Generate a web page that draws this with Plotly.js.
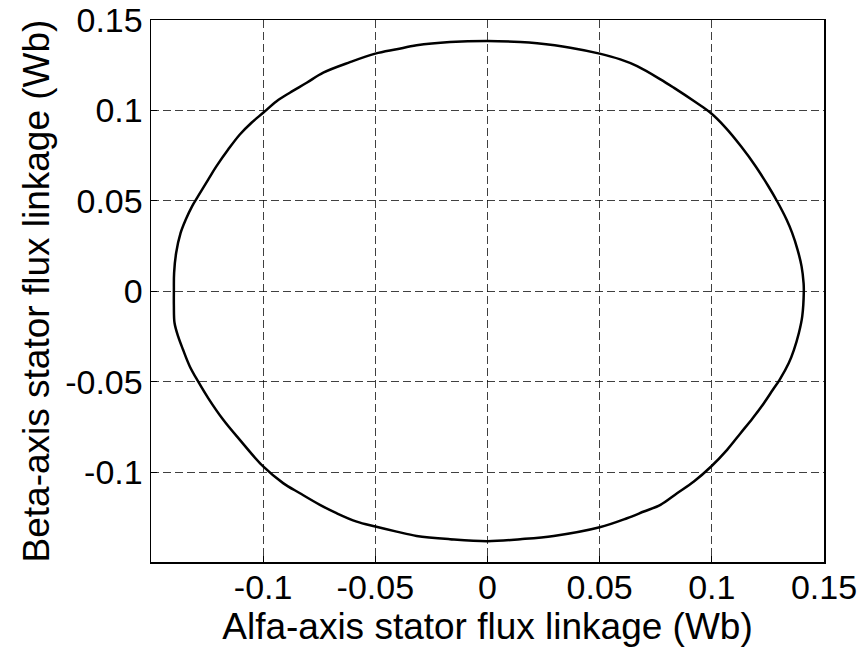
<!DOCTYPE html>
<html>
<head>
<meta charset="utf-8">
<script src="https://cdn.plot.ly/plotly-3.0.1.min.js"></script>
<style>html,body{margin:0;padding:0;background:#fff;}#chart{width:867px;height:650px;}</style>
</head>
<body>
<div id="chart"></div>
<script>
// Stator flux locus (alfa, beta) in Wb, counter-clockwise from (0.141, 0)
const alfa = [0.1410, 0.1409, 0.1400, 0.1382, 0.1358, 0.1333, 0.1291, 0.1252, 0.1195, 0.1130, 0.1062, 0.0994, 0.0920, 0.0830, 0.0771, 0.0667, 0.0592, 0.0500, 0.0369, 0.0221, 0.0146, 0.0000,
  -0.0167, -0.0316, -0.0405, -0.0500, -0.0613, -0.0732, -0.0806, -0.0881, -0.0940, -0.1000, -0.1052, -0.1104, -0.1156, -0.1208, -0.1245, -0.1290, -0.1317, -0.1345, -0.1368, -0.1388, -0.1397, -0.1398,
  -0.1398, -0.1395, -0.1379, -0.1357, -0.1327, -0.1290, -0.1245, -0.1178, -0.1104, -0.1000, -0.0911, -0.0836, -0.0747, -0.0673, -0.0583, -0.0500, -0.0405, -0.0316, -0.0167, 0.0000,
  0.0146, 0.0295, 0.0500, 0.0622, 0.0697, 0.0771, 0.0845, 0.0920, 0.0997, 0.1068, 0.1128, 0.1182, 0.1232, 0.1272, 0.1302, 0.1343, 0.1366, 0.1388, 0.1403, 0.1410];
const beta = [0.0000, 0.0046, 0.0138, 0.0231, 0.0323, 0.0397, 0.0498, 0.0581, 0.0692, 0.0802, 0.0904, 0.0987, 0.1052, 0.1126, 0.1172, 0.1245, 0.1282, 0.1314, 0.1347, 0.1371, 0.1378, 0.1384,
  0.1378, 0.1360, 0.1338, 0.1314, 0.1267, 0.1209, 0.1153, 0.1098, 0.1051, 0.0987, 0.0932, 0.0867, 0.0784, 0.0692, 0.0618, 0.0526, 0.0470, 0.0397, 0.0323, 0.0212, 0.0102, 0.0000,
  -0.0080, -0.0175, -0.0249, -0.0323, -0.0415, -0.0498, -0.0590, -0.0710, -0.0821, -0.0968, -0.1060, -0.1116, -0.1180, -0.1226, -0.1273, -0.1300, -0.1328, -0.1352, -0.1370, -0.1381,
  -0.1370, -0.1352, -0.1304, -0.1254, -0.1217, -0.1180, -0.1116, -0.1051, -0.0968, -0.0876, -0.0784, -0.0701, -0.0618, -0.0544, -0.0489, -0.0396, -0.0323, -0.0230, -0.0138, 0.0000];
const xTicks = [-0.1, -0.05, 0, 0.05, 0.1, 0.15];
const xTickText = ['-0.1', '-0.05', '0', '0.05', '0.1', '0.15'];
const yTicks = [-0.1, -0.05, 0, 0.05, 0.1, 0.15];
const yTickText = ['-0.1', '-0.05', '0', '0.05', '0.1', '0.15'];

const family = 'Liberation Sans, Arial, Helvetica, sans-serif';
const tickFont = {family: family, size: 34, color: '#000'};
const titleFont = {family: family, size: 37, color: '#000'};
const axisCommon = {
  showline: true, linecolor: '#000', linewidth: 1.5, mirror: true,
  ticks: 'inside', ticklen: 6, tickcolor: '#000',
  showgrid: true, gridcolor: 'rgba(0,0,0,0.75)', gridwidth: 1, griddash: '8px,4px',
  zeroline: false, tickfont: tickFont
};
Plotly.newPlot('chart', [{
  x: alfa, y: beta, type: 'scatter', mode: 'lines',
  line: {color: '#000', width: 2.5, shape: 'spline', smoothing: 1},
  hoverinfo: 'skip'
}], {
  width: 867, height: 650,
  margin: {l: 151, r: 43, t: 20, b: 88},
  paper_bgcolor: '#fff', plot_bgcolor: '#fff',
  showlegend: false,
  font: {family: family, color: '#000'},
  xaxis: Object.assign({}, axisCommon, {
    range: [-0.15, 0.15], tickvals: xTicks, ticktext: xTickText,
    ticklabelstandoff: -5,
    title: {text: 'Alfa-axis stator flux linkage (Wb)', font: titleFont, standoff: 0}
  }),
  yaxis: Object.assign({}, axisCommon, {
    range: [-0.1496, 0.15], tickvals: yTicks, ticktext: yTickText,
    title: {text: 'Beta-axis stator flux linkage (Wb)', font: titleFont, standoff: 4}
  })
}, {displayModeBar: false, staticPlot: true});
</script>
</body>
</html>
